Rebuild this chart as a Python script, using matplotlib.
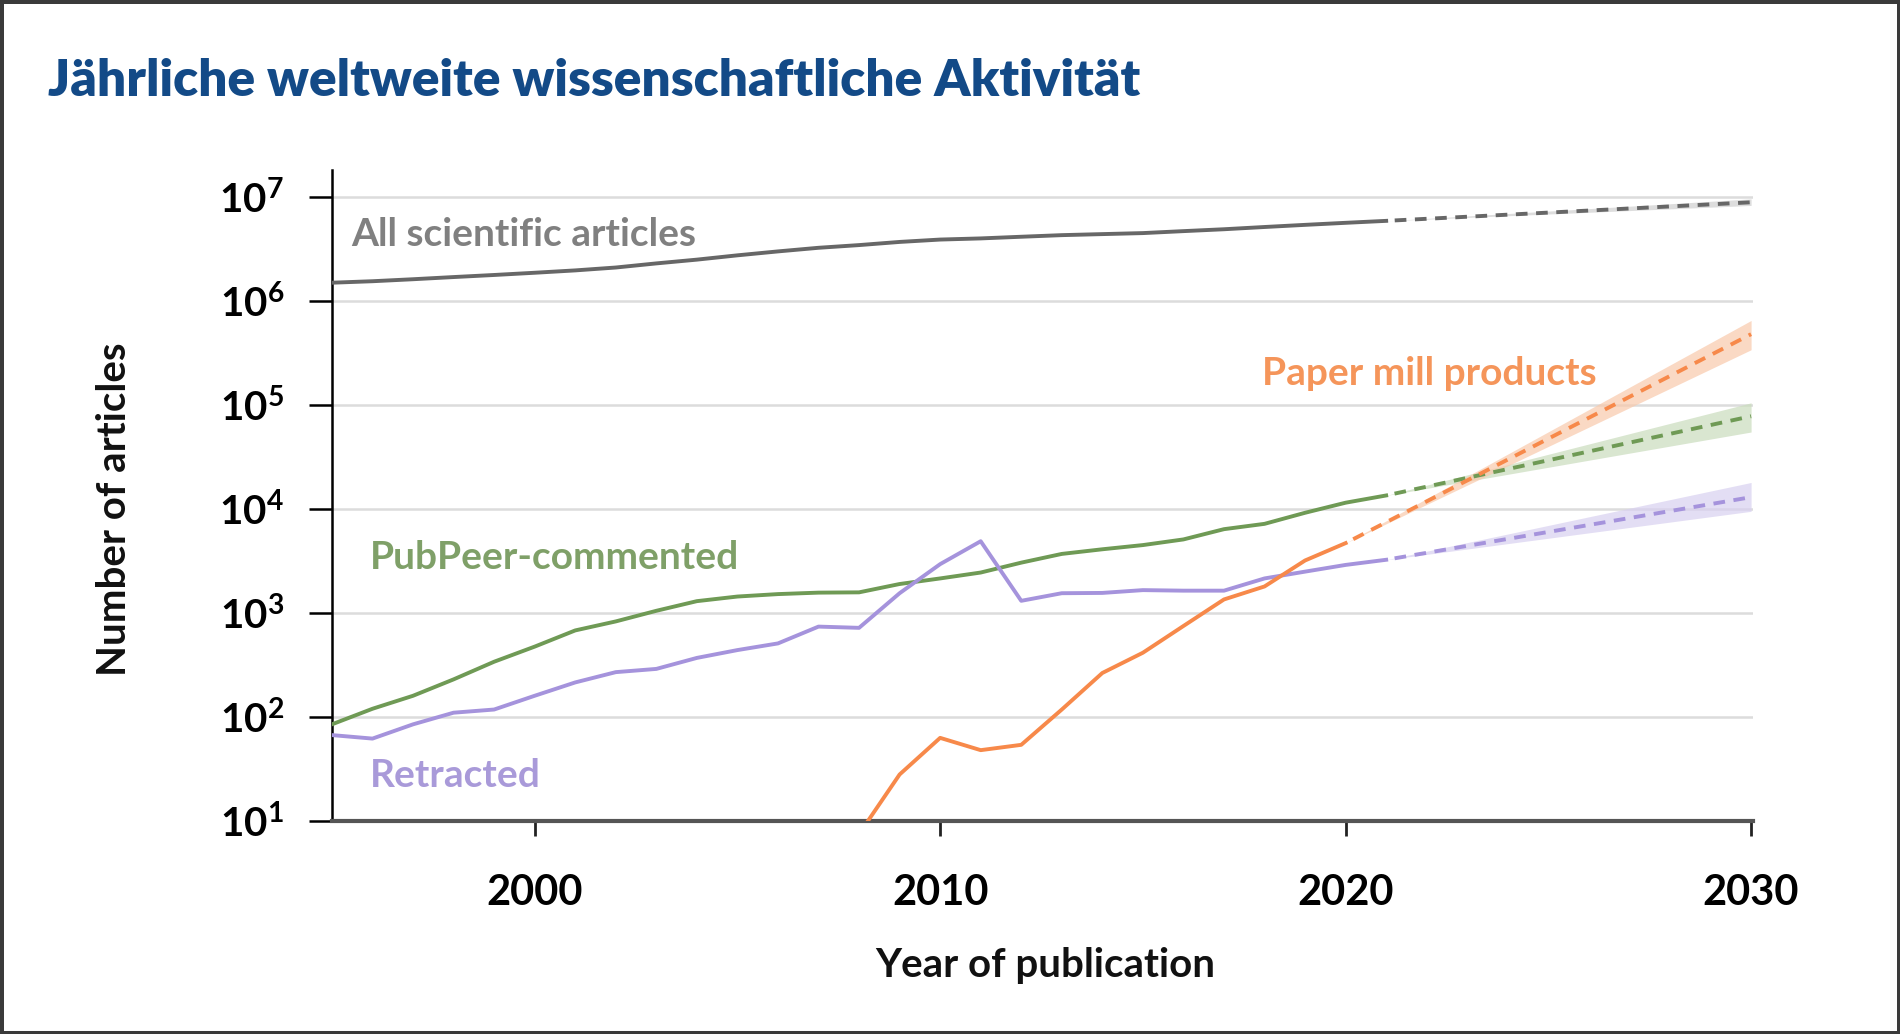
import matplotlib.pyplot as plt
import matplotlib.ticker as mticker
import numpy as np

plt.rcParams['font.family'] = ['Lato', 'DejaVu Sans']
plt.rcParams['mathtext.default'] = 'regular'

years = list(range(1995, 2022))
all_articles = [1.5e6, 1.55e6, 1.62e6, 1.7e6, 1.78e6, 1.87e6, 1.97e6, 2.1e6, 2.3e6,
                2.5e6, 2.75e6, 3.0e6, 3.25e6, 3.45e6, 3.7e6, 3.9e6, 4.0e6, 4.15e6,
                4.3e6, 4.4e6, 4.5e6, 4.7e6, 4.9e6, 5.15e6, 5.4e6, 5.65e6, 5.9e6]
pubpeer = [85, 120, 160, 230, 340, 475, 680, 830, 1050, 1300, 1440, 1520, 1570, 1580,
           1900, 2150, 2450, 3050, 3700, 4100, 4500, 5100, 6400, 7200, 9200, 11500, 13500]
retracted = [67, 62, 85, 110, 118, 160, 215, 270, 290, 370, 440, 510, 740, 720,
             1550, 2950, 4900, 1310, 1550, 1560, 1660, 1640, 1640, 2150, 2500, 2900, 3250]
mill_years = list(range(2008, 2021))
paper_mill = [7.5, 28, 63, 48, 54, 118, 265, 415, 750, 1350, 1800, 3200, 4700]

# projections to 2030 (start, end) with uncertainty band
proj_years = [2021, 2030]
mill_proj_years = [2020, 2030]
all_proj = [5.9e6, 8.9e6]
all_lo = [5.9e6, 8.3e6]
all_hi = [5.9e6, 9.6e6]
pubpeer_proj = [13500, 7.8e4]
pubpeer_lo = [13500, 5.5e4]
pubpeer_hi = [13500, 1.05e5]
retracted_proj = [3250, 1.3e4]
retracted_lo = [3250, 9.5e3]
retracted_hi = [3250, 1.8e4]
mill_proj = [4700, 4.8e5]
mill_lo = [4700, 3.4e5]
mill_hi = [4700, 6.5e5]

GRAY, GREEN, PURPLE, ORANGE = '#676767', '#6f9a55', '#a593dc', '#f7894a'

fig = plt.figure(figsize=(19, 10.34), dpi=100)
fig.patch.set_edgecolor('#3a3a3a')
fig.patch.set_linewidth(5)
ax = fig.add_axes([0.1747, 0.206, 0.748, 0.6296])

lw = 2.8
dash = (3.0, (3.0, 2.2))  # start with a gap after the solid part

ax.fill_between(proj_years, all_lo, all_hi, color='#cfcfcf', alpha=0.7, lw=0, zorder=1)
ax.fill_between(proj_years, pubpeer_lo, pubpeer_hi, color='#c9dcbc', alpha=0.7, lw=0, zorder=1)
ax.fill_between(proj_years, retracted_lo, retracted_hi, color='#d8d0f0', alpha=0.7, lw=0, zorder=1)
ax.fill_between(mill_proj_years, mill_lo, mill_hi, color='#f9c9ab', alpha=0.7, lw=0, zorder=1)

ax.plot(years, all_articles, color=GRAY, lw=lw, zorder=3)
ax.plot(years, pubpeer, color=GREEN, lw=lw, zorder=3)
ax.plot(years, retracted, color=PURPLE, lw=lw, zorder=3)
ax.plot(mill_years, paper_mill, color=ORANGE, lw=lw, zorder=3)

ax.plot(proj_years, all_proj, color=GRAY, lw=lw, ls=dash, zorder=3)
ax.plot(proj_years, pubpeer_proj, color=GREEN, lw=lw, ls=dash, zorder=3)
ax.plot(proj_years, retracted_proj, color=PURPLE, lw=lw, ls=dash, zorder=3)
ax.plot(mill_proj_years, mill_proj, color=ORANGE, lw=lw, ls=dash, zorder=3)

ax.set_yscale('log')
ax.set_xlim(1995, 2030.05)
ax.set_ylim(10, 10 ** 7.26)
ax.set_xticks([2000, 2010, 2020, 2030])
ax.yaxis.set_major_locator(mticker.LogLocator(base=10, numticks=10))
ax.yaxis.set_minor_locator(mticker.NullLocator())
ax.yaxis.set_major_formatter(mticker.FuncFormatter(
    lambda v, p: '$10^{%d}$' % int(round(np.log10(v)))))

ax.grid(axis='y', color='#dcdcdc', lw=1.8)
ax.grid(axis='x', visible=False)
ax.set_axisbelow(True)

for s in ['top', 'right']:
    ax.spines[s].set_visible(False)
ax.spines['left'].set_color('black')
ax.spines['left'].set_linewidth(1.8)
ax.spines['bottom'].set_color('#555555')
ax.spines['bottom'].set_linewidth(3)

ax.tick_params(axis='y', length=16.5, width=1.8, color='black', pad=18,
               labelsize=29, labelcolor='black')
ax.tick_params(axis='x', length=11, width=2, color='#222222', pad=27,
               labelsize=30, labelcolor='black')
for lab in ax.get_xticklabels() + ax.get_yticklabels():
    lab.set_fontweight('bold')

ax.set_ylabel('Number of articles', fontsize=29, fontweight='bold', color='#111111')
ax.yaxis.set_label_coords(-0.1527, 0.479)
ax.yaxis.label.set_va('center')
ax.set_xlabel('Year of publication', fontsize=29, fontweight='bold', color='#111111')
ax.xaxis.set_label_coords(0.502, -0.2227)
ax.xaxis.label.set_va('center')

ax.text(1995.48, 10 ** 6.64, 'All scientific articles', color='#808080',
        fontsize=28, fontweight='bold', va='center', ha='left')
ax.text(1995.93, 10 ** 3.535, 'PubPeer-commented', color='#7fa068',
        fontsize=28, fontweight='bold', va='center', ha='left')
ax.text(1995.93, 10 ** 1.44, 'Retracted', color='#a99ad9',
        fontsize=28, fontweight='bold', va='center', ha='left')
ax.text(2017.93, 10 ** 5.30, 'Paper mill products', color='#f5955a',
        fontsize=28, fontweight='bold', va='center', ha='left')

fig.text(0.0253, 0.922, 'Jährliche weltweite wissenschaftliche Aktivität',
         color='#134a87', fontsize=37, fontweight='heavy', va='center', ha='left')

fig.savefig('out.png', dpi=100)
